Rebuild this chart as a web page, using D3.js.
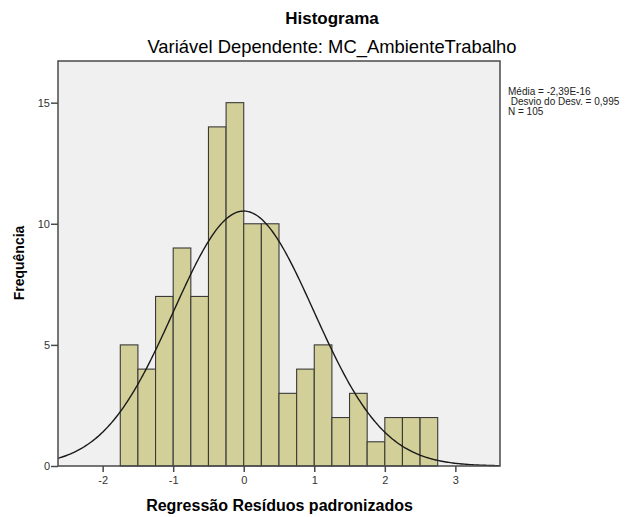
<!DOCTYPE html>
<html>
<head>
<meta charset="utf-8">
<script src="https://cdn.jsdelivr.net/npm/d3@7"></script>
<style>
  body { margin: 0; background: #fff; }
  #canvas { width: 640px; height: 517px; }
  text { font-family: Arial, "Liberation Sans", sans-serif; }
</style>
</head>
<body>
<div id="canvas" class="canvas"></div>
<script>
// data
var binStarts = [-1.75, -1.5, -1.25, -1.0, -0.75, -0.5, -0.25, 0, 0.25, 0.5, 0.75, 1.0, 1.25, 1.5, 1.75, 2.0, 2.25, 2.5];
var counts    = [5, 4, 7, 9, 7, 14, 15, 10, 10, 3, 4, 5, 2, 3, 1, 2, 2, 2];
var binWidth = 0.25;
var xTicks = [-2, -1, 0, 1, 2, 3];
var yTicks = [0, 5, 10, 15];
var stats = {mean: -2.39e-16, sd: 0.995, n: 105};
var legendLines = ['Média = -2,39E-16', ' Desvio do Desv. = 0,995', 'N = 105'];

var W = 640, H = 517;
var m = {t:61, r:140, b:51, l:58};
var w = W - m.l - m.r,
    h = H - m.t - m.b;

var svg = d3.select('.canvas')
    .append('svg')
    .attr('width', W)
    .attr('height', H);

var plot = svg.append('g')
    .attr('transform', 'translate(' + m.l + ',' + m.t + ')');

var x = d3.scaleLinear().domain([-2.633, 3.633]).range([0, w]);
var y = d3.scaleLinear().domain([0, 16.72]).range([h, 0]);

// plot background
plot.append('rect')
    .attr('width', w).attr('height', h)
    .style('fill', '#f0f0f0');

// bars
plot.selectAll('rect.bar')
    .data(counts)
    .enter()
    .append('rect')
    .attr('class', 'bar')
    .attr('x', function(d,i){ return x(binStarts[i]); })
    .attr('width', function(d,i){ return x(binStarts[i] + binWidth) - x(binStarts[i]); })
    .attr('y', function(d){ return y(d); })
    .attr('height', function(d){ return h - y(d); })
    .style('fill', '#d3cf98')
    .style('stroke', '#3a3a3a')
    .style('stroke-width', '1.1px');

// fitted normal curve
var xs = d3.range(x.domain()[0], x.domain()[1] + 0.001, 0.02);
var curve = xs.map(function(v){
    var z = (v - stats.mean) / stats.sd;
    return [v, stats.n * binWidth * Math.exp(-0.5*z*z) / (stats.sd * Math.sqrt(2*Math.PI))];
});
plot.append('path')
    .datum(curve)
    .attr('d', d3.line().x(function(d){ return x(d[0]); }).y(function(d){ return y(d[1]); }))
    .style('fill', 'none')
    .style('stroke', '#1a1a1a')
    .style('stroke-width', '1.4px');

// frame
plot.append('rect')
    .attr('width', w).attr('height', h)
    .style('fill', 'none')
    .style('stroke', '#4a4a4a')
    .style('stroke-width', '1.5px');

// axes
var xAxis = plot.append('g')
    .attr('transform', 'translate(0,' + h + ')')
    .call(d3.axisBottom(x).tickValues(xTicks).tickFormat(function(d){ return String(d); })
        .tickSize(6).tickSizeOuter(0).tickPadding(4));
var yAxis = plot.append('g')
    .call(d3.axisLeft(y).tickValues(yTicks).tickFormat(function(d){ return String(d); })
        .tickSize(7).tickSizeOuter(0).tickPadding(1));

[xAxis, yAxis].forEach(function(a){
    a.select('.domain').remove();
    a.selectAll('line').style('stroke', '#4a4a4a').style('stroke-width', '1.5px');
    a.selectAll('text')
        .style('font-family', 'Arial, "Liberation Sans", sans-serif')
        .style('font-size', '11px')
        .style('fill', '#333');
});

// titles
svg.append('text')
    .attr('x', 332).attr('y', 24)
    .attr('text-anchor', 'middle')
    .style('font-size', '17px').style('font-weight', 'bold')
    .text('Histograma');
svg.append('text')
    .attr('x', 332).attr('y', 53)
    .attr('text-anchor', 'middle')
    .style('font-size', '18.4px')
    .text('Variável Dependente: MC_AmbienteTrabalho');

svg.append('text')
    .attr('x', 279.5).attr('y', 511)
    .attr('text-anchor', 'middle')
    .style('font-size', '16px').style('font-weight', 'bold')
    .text('Regressão Resíduos padronizados');

svg.append('text')
    .attr('transform', 'translate(24,' + 263 + ') rotate(-90)')
    .attr('text-anchor', 'middle')
    .style('font-size', '14px').style('font-weight', 'bold')
    .text('Frequência');

// stats legend
svg.append('g').selectAll('text')
    .data(legendLines)
    .enter()
    .append('text')
    .attr('x', 508)
    .attr('y', function(d,i){ return 95 + i*10; })
    .attr('xml:space', 'preserve')
    .style('white-space', 'pre')
    .style('font-size', '10px')
    .style('fill', '#222')
    .text(function(d){ return d; });
</script>
</body>
</html>
